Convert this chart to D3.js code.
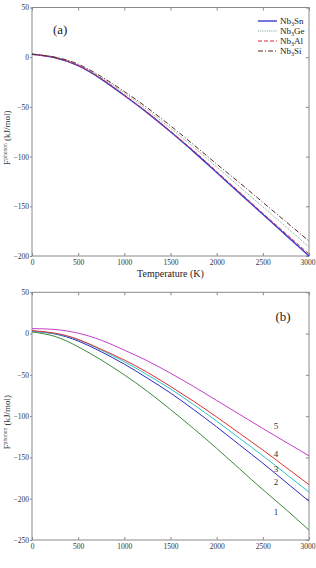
<!DOCTYPE html>
<html><head><meta charset="utf-8">
<script src="https://cdn.jsdelivr.net/npm/d3@7"></script>
<style>body{margin:0;background:#fff}svg{display:block}</style>
</head><body>
<script>
const temps = [0,250,500,750,1000,1250,1500,1750,2000,2250,2500,2750,3000];
// panel (a)
const nb3sn = [3,-0.5,-8.5,-22,-38.5,-56,-75,-95,-116,-137,-158,-179,-200];
const nb3ge = [3,0,-7.5,-20.5,-36,-53,-71.5,-90.5,-110.5,-130.5,-150.5,-170.5,-191];
const nb3al = [3,-0.5,-8.5,-21.5,-38,-55.5,-74.5,-94,-115,-136,-157,-177.5,-198];
const nb3si = [3,0,-7,-19.5,-34.5,-51,-69,-88,-107.5,-126.5,-146,-165.5,-185];
// panel (b)
const curve1 = [2,-3.5,-16,-32,-50,-70,-92,-115,-139,-164,-189,-213,-238];
const curve2 = [3,-0.5,-9,-22,-37,-54,-72,-92,-113,-135,-157,-180,-203];
const curve3 = [3,0,-7.5,-20,-34,-50,-67,-86,-106,-127,-148,-170,-192];
const curve4 = [3.5,0.5,-7,-19,-32,-47,-64,-82,-101,-121,-141,-162,-183];
const curve5 = [6,5,0.5,-8,-20,-33,-48,-64,-81,-98,-115,-131.5,-148];
const xTicks = [0,500,1000,1500,2000,2500,3000];
const yTicksA = [50,0,-50,-100,-150,-200];
const yTicksB = [50,0,-50,-100,-150,-200,-250];
const legendA = ["Nb3Sn","Nb3Ge","Nb3Al","Nb3Si"];
const labelsB = ["1","2","3","4","5"];

const W=316,H=568;
const svg=d3.select("body").append("svg").attr("width",W).attr("height",H);
const axisCol="#8a8a8a";
const FONT="'Liberation Serif','Times New Roman',Times,'DejaVu Serif',serif";

function panel(top,bottom,yDom,yTicks,series,xTitle){
  const x=d3.scaleLinear().domain([0,3000]).range([32,309]);
  const y=d3.scaleLinear().domain(yDom).range([bottom,top]);
  const g=svg.append("g");
  g.append("rect").attr("x",32).attr("y",top).attr("width",277).attr("height",bottom-top)
    .attr("fill","none").attr("stroke",axisCol).attr("stroke-width",1);
  const ax=[
    g.append("g").attr("transform",`translate(0,${bottom})`).call(d3.axisBottom(x).tickValues(xTicks).tickSize(-3).tickPadding(4).tickFormat(d3.format("d"))),
    g.append("g").attr("transform",`translate(0,${top})`).call(d3.axisTop(x).tickValues(xTicks).tickSize(-3).tickFormat("")),
    g.append("g").attr("transform",`translate(32,0)`).call(d3.axisLeft(y).tickValues(yTicks).tickSize(2).tickPadding(1).tickFormat(d3.format("d"))),
    g.append("g").attr("transform",`translate(309,0)`).call(d3.axisRight(y).tickValues(yTicks).tickSize(-3).tickFormat(""))
  ];
  ax.forEach(a=>{a.select(".domain").remove();a.selectAll("line").attr("stroke",axisCol);
    a.selectAll("text").attr("fill","#333").style("font-size","7.5px");});
  ax[0].selectAll("text").filter(d=>d===3000).attr("dx",-1.5);
  const line=d3.line().x((d,i)=>x(temps[i])).y(d=>y(d)).curve(d3.curveNatural);
  series.forEach(s=>{
    g.append("path").datum(s.v).attr("d",line).attr("fill","none").attr("stroke",s.c)
     .attr("stroke-width",s.w||1).attr("stroke-dasharray",s.dash||null);
  });
  if(xTitle) g.append("text").attr("x",(32+309)/2).attr("y",bottom+21).attr("text-anchor","middle")
    .style("font-size","10px").attr("fill","#222").text(xTitle);
  const yl=g.append("text").attr("transform",`translate(10,${(top+bottom)/2+6}) rotate(-90)`)
    .attr("text-anchor","middle").attr("fill","#333").style("font-size","9px");
  yl.append("tspan").text("F");
  yl.append("tspan").attr("dy",-3).style("font-size","5.5px").text("phonon");
  yl.append("tspan").attr("dy",3).text(" (kJ/mol)");
  return {x,y,g};
}

const sA=[
  {v:nb3sn,c:"#3a3ad0",w:1.4},
  {v:nb3ge,c:"#6f9a88",w:1,dash:"1,1.2"},
  {v:nb3al,c:"#d8283a",w:1,dash:"4,2"},
  {v:nb3si,c:"#5a2a20",w:1,dash:"5,2,1,2"}
];
const pA=panel(7.5,256,[-200,50],yTicksA,sA,"Temperature (K)");
pA.g.append("text").attr("x",53).attr("y",34).style("font-size","13px").attr("fill","#222").text("(a)");
sA.forEach((s,i)=>{
  const yy=21+i*10;
  pA.g.append("line").attr("x1",258).attr("x2",277).attr("y1",yy).attr("y2",yy)
    .attr("stroke",s.c).attr("stroke-width",s.w).attr("stroke-dasharray",s.dash||null);
  const t=pA.g.append("text").attr("x",280).attr("y",yy+3).style("font-size","9px").attr("fill","#222");
  const nm=legendA[i];
  t.append("tspan").text(nm.slice(0,2));
  t.append("tspan").attr("dy",2).style("font-size","6px").text(nm[2]);
  t.append("tspan").attr("dy",-2).text(nm.slice(3));
});

const sB=[
  {v:curve1,c:"#3a8a3a"},
  {v:curve2,c:"#2a2ac0"},
  {v:curve3,c:"#2ec4c4"},
  {v:curve4,c:"#e03030"},
  {v:curve5,c:"#c040c8"}
];
const pB=panel(292.3,540,[-250,50],yTicksB,sB,null);
pB.g.append("text").attr("x",283).attr("y",321).attr("text-anchor","middle").style("font-size","13px").attr("fill","#222").text("(b)");
const labY=[512,481.7,468.7,454,425.7];
labelsB.forEach((l,i)=>{
  pB.g.append("text").attr("x",276).attr("y",labY[i]+3).attr("text-anchor","middle")
    .style("font-size","9px").attr("fill","#333").text(l);
});
svg.selectAll("text").style("font-family",FONT);
svg.selectAll("g").attr("font-family",null);
</script>
</body></html>
